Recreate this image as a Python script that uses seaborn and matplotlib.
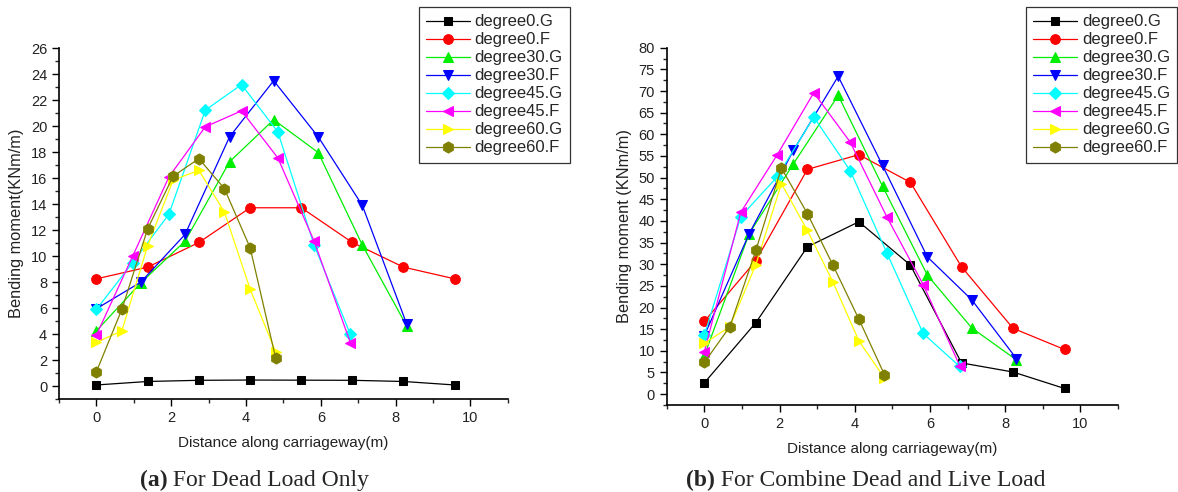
import pandas as pd
import seaborn as sns
import matplotlib.pyplot as plt
from matplotlib.ticker import MultipleLocator

# x positions along carriageway for each skew angle
x_deg0 = [0, 1.37, 2.74, 4.11, 5.48, 6.84, 8.21, 9.58]
x_deg30 = [0, 1.19, 2.37, 3.56, 4.74, 5.93, 7.11, 8.30]
x_deg45 = [0, 0.97, 1.94, 2.91, 3.88, 4.85, 5.82, 6.79]
x_deg60 = [0, 0.68, 1.37, 2.05, 2.74, 3.42, 4.11, 4.79]

series_names = ["degree0.G", "degree0.F", "degree30.G", "degree30.F",
                "degree45.G", "degree45.F", "degree60.G", "degree60.F"]

# (a) dead load only
dead_0G = [0.08, 0.35, 0.44, 0.46, 0.45, 0.44, 0.35, 0.08]
dead_0F = [8.25, 9.15, 11.05, 13.72, 13.72, 11.05, 9.15, 8.25]
dead_30G = [4.25, 7.95, 11.15, 17.26, 20.5, 17.97, 10.85, 4.6]
dead_30F = [5.95, 8.0, 11.67, 19.18, 23.5, 19.18, 13.9, 4.74]
dead_45G = [5.9, 9.5, 13.23, 21.23, 23.2, 19.56, 10.85, 3.97]
dead_45F = [3.92, 10.0, 16.1, 19.95, 21.18, 17.56, 11.15, 3.33]
dead_60G = [3.36, 4.25, 10.8, 15.85, 16.6, 13.4, 7.45, 2.65]
dead_60F = [1.1, 5.9, 12.1, 16.15, 17.5, 15.2, 10.64, 2.18]

# (b) combined dead and live load
comb_0G = [2.6, 16.5, 34.0, 39.8, 29.8, 7.2, 5.1, 1.3]
comb_0F = [16.8, 30.8, 51.9, 55.3, 48.9, 29.4, 15.2, 10.3]
comb_30G = [8.9, 37.0, 53.2, 69.0, 48.0, 27.5, 15.3, 7.9]
comb_30F = [13.5, 37.0, 56.3, 73.4, 52.8, 31.7, 21.8, 8.2]
comb_45G = [13.6, 41.0, 50.2, 64.0, 51.6, 32.7, 14.0, 6.4]
comb_45F = [9.8, 42.0, 55.3, 69.6, 58.2, 41.0, 25.3, 6.6]
comb_60G = [11.7, 15.6, 29.9, 48.6, 37.8, 25.9, 12.3, 3.7]
comb_60F = [7.3, 15.6, 33.2, 52.2, 41.7, 29.8, 17.3, 4.5]

x_lists = [x_deg0, x_deg0, x_deg30, x_deg30, x_deg45, x_deg45, x_deg60, x_deg60]
dead = [dead_0G, dead_0F, dead_30G, dead_30F, dead_45G, dead_45F, dead_60G, dead_60F]
comb = [comb_0G, comb_0F, comb_30G, comb_30F, comb_45G, comb_45F, comb_60G, comb_60F]

colors = ["black", "#ff0000", "#00ee00", "#0000ff", "#00ffff", "#ff00ff", "#ffff00", "#808000"]
markers = ["s", "o", "^", "v", "D", "<", ">", "h"]
msizes = [6, 7, 7.5, 7.5, 6, 7.5, 7.5, 8]

sns.set_style("white")
plt.rcParams['font.family'] = ['Liberation Sans', 'DejaVu Sans']

fig = plt.figure(figsize=(11.78, 4.92), dpi=100)
ax1 = fig.add_axes([0.0501, 0.189, 0.381, 0.713])
ax2 = fig.add_axes([0.566, 0.177, 0.383, 0.726])


def draw(ax, values, ymin, ymax, ymaj, ymin_step, ylabel, legend_anchor):
    for name, xs, ys, c, m, s in zip(series_names, x_lists, values, colors, markers, msizes):
        df = pd.DataFrame({"x": xs, "y": ys})
        sns.lineplot(data=df, x="x", y="y", ax=ax, color=c, marker=m, markersize=s,
                     markeredgecolor=c, linewidth=0.9, label=name, sort=False)
    ax.set_xlim(-1, 11)
    ax.set_ylim(ymin, ymax)
    ax.xaxis.set_major_locator(MultipleLocator(2))
    ax.xaxis.set_minor_locator(MultipleLocator(1))
    ax.yaxis.set_major_locator(MultipleLocator(ymaj))
    ax.yaxis.set_minor_locator(MultipleLocator(ymin_step))
    ax.set_xticks(range(0, 11, 2))
    ax.set_yticks([v for v in range(0, int(ymax) + 1, ymaj)])
    ax.tick_params(which="major", direction="out", length=5, width=1, labelsize=10.5,
                   left=True, bottom=True, colors="black", labelcolor="#222222")
    ax.tick_params(which="minor", direction="out", length=3, width=1, left=True, bottom=True)
    for sp in ["top", "right"]:
        ax.spines[sp].set_visible(False)
    for sp in ["left", "bottom"]:
        ax.spines[sp].set_color("black")
        ax.spines[sp].set_linewidth(1.2)
    ax.set_xlabel("Distance along carriageway(m)", fontsize=11, labelpad=8, color="#222222")
    ax.set_ylabel(ylabel, fontsize=11.8, labelpad=5, color="#222222")
    leg = ax.legend(loc="upper right", bbox_to_anchor=legend_anchor,
                    bbox_transform=fig.transFigure, frameon=True, fancybox=False,
                    fontsize=12, handlelength=2.6, labelspacing=0.18,
                    borderpad=0.45, handletextpad=0.3, borderaxespad=0)
    leg.get_frame().set_edgecolor("black")
    leg.get_frame().set_linewidth(0.9)


draw(ax1, dead, -1, 26, 2, 1, "Bending moment(KNm/m)", (0.484, 0.986))
draw(ax2, comb, -2.5, 80, 5, 2.5, "Bending moment (KNm/m)", (0.9995, 0.986))

serif = ['Liberation Serif', 'DejaVu Serif']
fig.text(0.142, 0.012, "(a)", ha="right", fontsize=17, fontweight="bold", family=serif)
fig.text(0.142, 0.012, " For Dead Load Only", ha="left", fontsize=17, family=serif)
fig.text(0.607, 0.012, "(b)", ha="right", fontsize=17, fontweight="bold", family=serif)
fig.text(0.607, 0.012, " For Combine Dead and Live Load", ha="left", fontsize=17, family=serif)

fig.savefig("out.png", dpi=100)
